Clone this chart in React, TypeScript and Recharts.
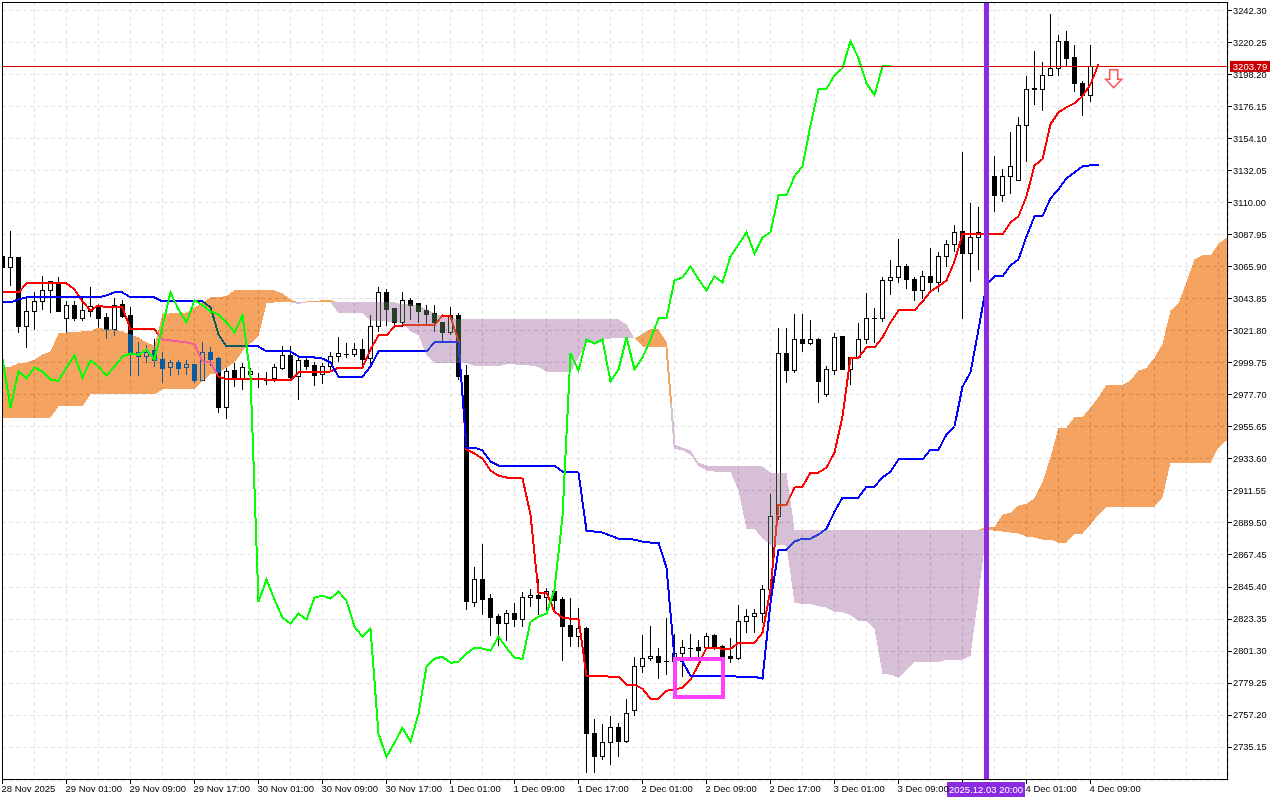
import React from 'react';
import {
  ComposedChart, Bar, Line, Area, XAxis, YAxis, CartesianGrid, ReferenceLine, ReferenceArea, ReferenceDot
} from 'recharts';

const FONT = '"Liberation Sans", Arial, sans-serif';

// every bar is one hour, a label sits on every 8th bar
const timeLabels = [
  '28 Nov 2025', '29 Nov 01:00', '29 Nov 09:00', '29 Nov 17:00', '30 Nov 01:00', '30 Nov 09:00',
  '30 Nov 17:00', '1 Dec 01:00', '1 Dec 09:00', '1 Dec 17:00', '2 Dec 01:00', '2 Dec 09:00',
  '2 Dec 17:00', '3 Dec 01:00', '3 Dec 09:00', '', '4 Dec 01:00', '4 Dec 09:00'
];

const priceTicks = [
  3242.30, 3220.25, 3198.20, 3176.15, 3154.10, 3132.05, 3110.00, 3087.95, 3065.90, 3043.85, 3021.80, 2999.75,
  2977.70, 2955.65, 2933.60, 2911.55, 2889.50, 2867.45, 2845.40, 2823.35, 2801.30, 2779.25, 2757.20, 2735.15
];

const opens = [
  3073,3065.5,3072.3,3024.8,3035.1,3042,3049.6,3054.4,3030.3,3039.3,
  3030.3,3035.1,3038.6,3031,3022.7,3040,3032.4,3004.1,3004.1,3008.3,
  3002,2996.5,3000,2996.5,2998.6,2987.6,3006.9,3002.7,2969,2994.5,
  2989,2991.7,2988.3,2987.6,2989,2995.8,3004.8,2990.3,3001.4,2997.9,
  2991.7,2997.2,3004.1,3005.5,3005.5,3008.9,3002.7,3024.8,3048.2,3037.2,
  3027.6,3042.7,3040.6,3035.8,3033.8,3027.6,3020.7,3032.4,2991,2834.6,
  2850.5,2837.4,2825,2820.2,2827.1,2822.9,2838.1,2839.5,2838.1,2842.2,
  2836.7,2818.8,2811.2,2816.7,2744.4,2728.5,2738.2,2748.5,2738.9,2760.2,
  2790.5,2796,2797.4,2794,2794,2799.5,2802.9,2803.6,2803.6,2811.9,
  2804.3,2797.4,2796,2821.5,2825,2827.1,2843.6,2893.9,3006.2,2994.5,
  3015.8,3013.1,3015.8,2977.9,2994.5,3017.9,2995.2,3003.4,3015.8,3030.3,
  3030.3,3056.5,3058.6,3066.1,3057.2,3049.6,3059.3,3055.1,3073,3081.3,
  3090.2,3075.1,3086.1,3089.6,3128.1,3115.1,3128.1,3125.4,3163.3,3188.1,
  3188.1,3197.7,3202.6,3221.2,3210.1,3192.2,3184,3203.79
];

const highs = [
  3074.4,3090.9,3073,3046.2,3048.9,3059.9,3056.5,3059.3,3042.7,3042.7,
  3044.8,3052.4,3040,3034.4,3044.8,3043.4,3038.6,3014.5,3012.4,3016.5,
  3007.6,3002,3002,3002,2998.6,3014.5,3011,3004.1,2996.5,3000,
  3000,2996.5,2993.1,2993.8,2999.3,3011.7,3011.7,3004.8,3004.8,3000.7,
  3000,3007.6,3017.9,3013.8,3013.8,3016.5,3033.1,3052.4,3051,3037.2,
  3048.9,3044.8,3040.6,3040,3040,3027.6,3038.6,3034.4,2998.6,2859.4,
  2875.3,2840.8,2827.1,2829.8,2834.6,2842.2,2844.3,2851.2,2845,2844.3,
  2838.8,2838.1,2831.2,2818.1,2754.7,2751.3,2756.8,2752,2768.5,2797.4,
  2812.6,2818.8,2803.6,2824.3,2813.3,2809.1,2813.3,2809.1,2814,2813.3,
  2805.7,2810.5,2833.3,2830.5,2830.5,2847,2909.7,3024.1,3024.1,3033.8,
  3033.8,3029.6,3017.2,2997.9,3020.7,3018.6,3003.4,3027.6,3048.2,3037.9,
  3059.3,3071,3085.4,3068.2,3059.3,3063.4,3079.2,3076.5,3084.7,3095.1,
  3145.4,3110.2,3107.5,3119.2,3142.6,3133.7,3159.2,3169.5,3197.7,3215,
  3207.4,3240.5,3226,3228.7,3219.1,3194.3,3219.1,3203.79
];

const lows = [
  3064.1,3053,3020.7,3010.3,3022.7,3036.5,3034.4,3035.1,3020.7,3028.9,
  3028.9,3031.7,3024.1,3016.5,3018.6,3031,2991,2991,3000,2997.2,
  2986.2,2991,2991.7,2991.7,2986.2,2987.6,2997.9,2965.5,2961.4,2983.4,
  2981.4,2986.9,2982.8,2984.8,2986.9,2995.2,2988.3,2974.5,2995.2,2984.1,
  2985.5,2995.2,3000.7,3003.4,3004.1,2997.2,2999.3,3021.4,3025.5,3024.8,
  3024.8,3029.6,3027.6,3026.2,3021.4,3013.8,3019.3,2988.3,2829.8,2831.9,
  2826.4,2811.9,2805,2808.4,2818.1,2818.1,2831.9,2826.4,2829.8,2827.8,
  2794.7,2804.3,2804.3,2717.5,2717.5,2726.5,2723,2728.5,2738.2,2756.8,
  2786.4,2794.7,2782.3,2785,2788.5,2783.6,2796.7,2797.4,2802.2,2802.2,
  2795.4,2793.3,2795.4,2814,2814,2820.9,2838.8,2891.8,2986.2,2993.1,
  3007.6,3012.4,2972.4,2976.6,2991.7,2995.2,2984.8,3003.4,3013.1,3013.8,
  3028.2,3046.8,3055.1,3051,3042.7,3044.1,3049.6,3048.9,3066.1,3076.5,
  3030.3,3055.8,3064.1,3084.7,3104,3110.9,3116.4,3125.4,3138.5,3177.8,
  3173.6,3197.7,3197.7,3203.9,3186.7,3170.2,3179.8,3203.79
];

const closes = [
  3065.5,3072.3,3024.8,3035.1,3042,3049.6,3055.8,3035.1,3039.3,3030.3,
  3035.8,3038.6,3030.3,3022.7,3039.3,3031.7,3006.2,3006.9,3006.9,3001.4,
  2995.8,3000,2995.8,2998.6,2987.6,3006.9,3002,2969,2993.8,2989,
  2996.5,2993.8,2988,2987.4,2996.5,3004.8,2989.6,3001.4,2997.2,2991,
  2997.2,3004.1,3006.2,3005.2,3008.9,3002,3024.8,3048.2,3036.5,3027.6,
  3042.7,3039.3,3035.1,3033.1,3027.6,3020.7,3032.4,2990.3,2835.3,2850.5,
  2836.7,2824.3,2820.2,2827.1,2822.9,2838.1,2839.5,2837.4,2842.2,2836,
  2818.1,2811.2,2816.7,2744.4,2728.5,2738.2,2748.5,2738.9,2758.1,2790.5,
  2796,2797.4,2793.3,2793.8,2799.5,2803.6,2803,2801.6,2811.2,2803.6,
  2796.7,2796,2821.5,2825,2827.1,2843.6,2893.9,3006.2,2994.5,3015.8,
  3013.1,3015.8,2986.9,2995.2,3017.2,2995.2,3003.4,3015.8,3030.3,3030.5,
  3056.5,3058.6,3066.1,3057.2,3049.6,3059.3,3055.1,3073,3081.3,3089.6,
  3075.1,3086.1,3089.6,3115.1,3115.1,3128.1,3135,3163.3,3188.1,3188.3,
  3197.7,3202.6,3221.2,3209.4,3192.2,3184,3203.79,3203.79
];

const tenkan = [
  3048.2,3048.2,3048.2,3054.4,3054.4,3054.4,3054.4,3054.4,3054.4,3050.3,
  3042,3035.8,3039.3,3037.9,3037.9,3037.9,3022.7,3022.7,3022.7,3022.7,
  3015.8,3015.2,3014.5,3013.8,3012.4,3000.7,3000,2990.3,2988.3,2988.3,
  2988.3,2988.3,2988.3,2988.3,2987.6,2987.6,2987.6,2993.1,2993.1,2993.1,
  2993.1,2993.8,2996.5,2996.5,2996.5,2996.5,3008.9,3018.6,3018.6,3024.8,
  3025.5,3025.5,3025.5,3025.5,3025.5,3032.4,3031.7,3014.5,2940,2937.3,
  2933.8,2925.6,2922.1,2920.8,2920.8,2920.1,2895.3,2841.5,2841.5,2828.4,
  2824.3,2823.6,2823.6,2784.3,2784.3,2784.3,2783.6,2783.6,2778.1,2778.1,
  2775.4,2768.5,2768.5,2774,2774.7,2776.1,2781.6,2791.9,2803.6,2803.6,
  2802.9,2802.9,2807,2807,2807,2814,2843.6,2902.2,2902.2,2913.9,
  2914.6,2924.2,2924.2,2927.6,2938,2962.8,3003.4,3003.4,3010.3,3010.3,
  3017.2,3027.6,3035.8,3035.8,3035.8,3042,3048.9,3052.4,3056.5,3069.6,
  3088.2,3088.2,3088.2,3088.2,3088.2,3088.2,3096.4,3100.6,3114.4,3135.7,
  3139.9,3164,3172.2,3175.7,3178.4,3183.3,3191.5,3205.3
];

const kijun = [
  3041.3,3041.3,3043.4,3044.8,3044.8,3044.8,3044.8,3044.8,3044.8,3044.8,
  3044.8,3044.8,3044.8,3046.2,3048.2,3048.2,3044.8,3044.8,3044.8,3044.8,
  3042,3042,3042,3042,3042,3042,3037.9,3019.3,3011,3011,
  3011,3011,3011,3007.6,3007.6,3007.6,3007.6,3004.1,3004.1,3003.4,
  3002.7,3000,2990.3,2990.3,2990.3,2990.3,2997.2,3007.6,3007.6,3007.6,
  3007.6,3007.6,3007.6,3007.6,3013.8,3013.8,3013.8,3013.8,2941.4,2941.4,
  2939.4,2931.8,2929,2929,2929,2929,2929,2929,2929,2929,
  2924.9,2924.9,2924.2,2884.2,2883.6,2882.9,2880.8,2878.7,2878.7,2878,
  2876.7,2876,2876,2858.7,2796.7,2794,2784.3,2784.3,2784.3,2784.3,
  2784.3,2784.3,2783.6,2783.6,2783.6,2782.3,2834.6,2871.1,2871.1,2876.7,
  2878.7,2878.7,2881.5,2885.6,2897.3,2907,2907,2907,2914.6,2914.6,
  2920.8,2924.9,2933.2,2933.2,2933.2,2933.2,2940,2940,2950.4,2955.9,
  2983.4,2993.1,3022.7,3053.7,3059.3,3059.3,3066.8,3071,3086.8,3100.6,
  3100.6,3113,3119.2,3126.8,3130.9,3135,3135.7,3135.7
];

// lagging line, ends 26 bars before the last candle
const chikou = [
  3002,2969,2993.8,2989,
  2996.5,2993.8,2988,2987.4,2996.5,3004.8,2989.6,3001.4,2997.2,2991,
  2997.2,3004.1,3006.2,3005.2,3008.9,3002,3024.8,3048.2,3036.5,3027.6,
  3042.7,3039.3,3035.1,3033.1,3027.6,3020.7,3032.4,2990.3,2835.3,2850.5,
  2836.7,2824.3,2820.2,2827.1,2822.9,2838.1,2839.5,2837.4,2842.2,2836,
  2818.1,2811.2,2816.7,2744.4,2728.5,2738.2,2748.5,2738.9,2758.1,2790.5,
  2796,2797.4,2793.3,2793.8,2799.5,2803.6,2803,2801.6,2811.2,2803.6,
  2796.7,2796,2821.5,2825,2827.1,2843.6,2893.9,3006.2,2994.5,3015.8,
  3013.1,3015.8,2986.9,2995.2,3017.2,2995.2,3003.4,3015.8,3030.3,3030.5,
  3056.5,3058.6,3066.1,3057.2,3049.6,3059.3,3055.1,3073,3081.3,3089.6,
  3075.1,3086.1,3089.6,3115.1,3115.1,3128.1,3135,3163.3,3188.1,3188.3,
  3197.7,3202.6,3221.2,3209.4,3192.2,3184,3203.79,3203.79
];

const spanA = [
  2997.2,2997.2,2999.3,3000,3002,3005.5,3007.6,3020,3020.7,3020.7,
  3021.4,3021.4,3024.1,3022.7,3022.7,3021.4,3019.3,3017.2,3013.8,3011.7,
  3033.1,3033.8,3033.8,3034.4,3037.9,3041.3,3044.8,3044.8,3045.8,3049.6,
  3049.6,3049.6,3049.6,3049.6,3049.6,3047.5,3043.4,3040.3,3042,3042,
  3043,3043,3033.8,3033.8,3033.8,3033.8,3028.9,3028.6,3028.2,3027.9,
  3027.2,3021.4,3018.9,3004.8,2999.6,2999.6,2999.6,2999.6,2999.6,2997.9,
  2997.6,2997.6,2997.6,2998.6,2998.6,2998.3,2997.9,2996.9,2993.4,2993.4,
  2993.4,2993.4,3003.1,3013.1,3013.1,3016.2,3016.5,3016.5,3016.5,3016.5,
  3019.6,3023.1,3022.7,3014.1,2940.7,2939.4,2936.6,2928.7,2925.6,2924.9,
  2924.9,2924.5,2912.1,2885.3,2885.3,2878.7,2874.6,2874.3,2873.9,2834.3,
  2833.9,2833.6,2832.2,2831.2,2828.4,2828.1,2826,2822.2,2822.2,2816.4,
  2785.7,2785,2783,2788.1,2794,2794,2793.6,2793.6,2795.4,2795.4,
  2795.4,2798.1,2839.1,2886.6,2886.6,2895.3,2896.6,2901.5,2902.8,2906.6,
  2917.7,2934.9,2955.2,2955.2,2962.4,2962.4,2969,2976.2,2984.5,2984.5,
  2984.5,2987.6,2994.5,2996.2,3003.4,3012.7,3035.8,3040.6,3055.5,3071,
  3073.7,3073.7,3081.6,3085.8
];

const spanB = [
  2962.1,2962.1,2962.1,2962.1,2962.1,2962.1,2962.1,2969.7,2969.7,2969.7,
  2969.7,2978,2978,2978,2978,2978,2978,2978,2978,2978,
  2981.4,2981.4,2981.4,2981.4,2981.4,2986.9,2991.7,2992.4,2996.5,3000,
  3007.6,3013.1,3017.9,3040.6,3041.3,3041.3,3041.3,3041.3,3041.3,3041.3,
  3041.3,3041.3,3041.3,3041.3,3041.3,3041.3,3041.3,3041.3,3041.3,3041.3,
  3040,3040,3039.3,3036.5,3033.8,3031.7,3031,3029.6,3029.6,3029.6,
  3029.6,3029.6,3029.6,3029.6,3029.6,3029.6,3029.6,3029.6,3029.6,3029.6,
  3029.6,3029.6,3029.6,3029.6,3029.6,3029.6,3029.6,3029.6,3026.2,3016.5,
  3011,3010.3,3010.3,3010.3,2943.5,2941.4,2939.4,2931.1,2929,2929,
  2929,2929,2929,2929,2929,2928.3,2924.2,2924.2,2924.2,2884.9,
  2884.9,2884.9,2884.9,2884.9,2884.9,2884.9,2884.9,2884.9,2884.9,2884.9,
  2884.9,2884.9,2884.9,2884.9,2884.9,2884.9,2884.9,2884.9,2884.9,2884.9,
  2884.9,2884.9,2884.9,2884.9,2884.2,2883.6,2882.9,2882.2,2880.1,2879.4,
  2878,2878,2876,2876,2882.2,2882.2,2888.4,2895.3,2900.8,2900.8,
  2900.8,2900.8,2900.8,2900.8,2900.8,2907,2931.1,2931.1,2931.1,2931.1,
  2931.1,2931.1,2941.4,2946.2
];

const gridBars = Array.from({ length: 39 }, (_, k) => k * 4);

const rows = spanA.map((a, i) => {
  const b = spanB[i];
  const up = a >= b;
  const prevUp = i > 0 ? spanA[i - 1] >= spanB[i - 1] : up;
  const nextUp = i < spanA.length - 1 ? spanA[i + 1] >= spanB[i + 1] : up;
  // where the spans cross, both clouds meet in a single point on span B
  const orange = up ? [b, a] : prevUp || nextUp ? [b, b] : null;
  const purple = !up ? [a, b] : !prevUp || !nextUp ? [b, b] : null;
  return {
    bar: i,
    open: opens[i] ?? null,
    close: closes[i] ?? null,
    range: i < opens.length ? [lows[i], highs[i]] : null,
    high: highs[i] ?? null,
    low: lows[i] ?? null,
    tenkan: tenkan[i] ?? null,
    kijun: kijun[i] ?? null,
    chikou: chikou[i] ?? null,
    // the cloud collapses to a thread between these two bars
    thread: i === 83 || i === 84 ? b : null,
    orange,
    purple
  };
});

function Candle(props: any) {
  const { x, y, width, height, payload } = props;
  if (!payload || payload.open == null) return null;
  const top = Math.min(y, y + height);
  const span = payload.high - payload.low;
  const perPrice = span > 0 ? Math.abs(height) / span : 0;
  const cx = Math.floor(x + width / 2) + 0.5;
  const yOf = (p: number) => Math.floor(top + (payload.high - p) * perPrice) + 0.5;
  const bodyTop = yOf(Math.max(payload.open, payload.close));
  const bodyBottom = yOf(Math.min(payload.open, payload.close));
  const falling = payload.close < payload.open;
  return (
    <g shapeRendering="crispEdges">
      <line x1={cx} x2={cx} y1={yOf(payload.high)} y2={yOf(payload.low)} stroke="#000" />
      {bodyBottom - bodyTop < 1 ? (
        <line x1={cx - 2.5} x2={cx + 2.5} y1={bodyTop} y2={bodyTop} stroke="#000" />
      ) : (
        <rect x={cx - 2} y={bodyTop} width={4} height={bodyBottom - bodyTop} fill={falling ? '#000' : '#fff'} stroke="#000" />
      )}
    </g>
  );
}

function TimeTick(props: any) {
  const { x, y, payload } = props;
  if (payload.value % 8 !== 0 || payload.value > 136) return null;
  const label = timeLabels[payload.value / 8];
  return (
    <g>
      <line x1={x - 0.5} x2={x - 0.5} y1={y} y2={label ? y + 4 : y + 2} stroke="#000" shapeRendering="crispEdges" />
      {label ? (
        <text x={x - 1} y={y + 12} fontSize={9.5} fontFamily={FONT} fill="#000">{label}</text>
      ) : null}
    </g>
  );
}

function PriceTag(props: any) {
  const { x, y, width } = props.viewBox;
  const left = x + width + 2;
  return (
    <g>
      <rect x={left} y={y - 5.5} width={40} height={11} fill="#cc0000" />
      <text x={left + 20} y={y + 3.5} fontSize={9.5} fontFamily={FONT} fill="#fff" textAnchor="middle">3203.79</text>
    </g>
  );
}

function TimeTag(props: any) {
  const { x, y, height } = props.viewBox;
  const base = y + height;
  return (
    <g>
      <rect x={x - 39.5} y={base + 2} width={78} height={15} fill="#8a2be2" />
      <text x={x - 0.5} y={base + 12.5} fontSize={9.5} fontFamily={FONT} fill="#fff" textAnchor="middle">2025.12.03 20:00</text>
    </g>
  );
}

function SellArrow(props: any) {
  const { cx, cy } = props;
  const points = [
    [cx - 4, cy - 9.5], [cx + 4, cy - 9.5], [cx + 4, cy], [cx + 8, cy],
    [cx, cy + 8.5], [cx - 8, cy], [cx - 4, cy]
  ].map((p) => p.join(',')).join(' ');
  return <polygon points={points} fill="#fff" stroke="#ff5050" strokeWidth={1.5} />;
}

export default function App() {
  return (
    <div style={{ position: 'absolute', left: 0, top: 0, width: 1280, height: 800, background: '#fff', overflow: 'hidden', isolation: 'isolate' }}>
      {/* the cloud is painted like MT5 does it: xor over what is already there */}
      <style>{`
        .cloud-fill { mix-blend-mode: difference; }
        svg.recharts-surface { background: #fff; isolation: isolate; }
        .recharts-line-curve, .recharts-area-area, .recharts-cartesian-grid line,
        .recharts-reference-line-line, .recharts-cartesian-axis-tick-line,
        .recharts-reference-area-rect { shape-rendering: crispEdges; }
      `}</style>
      <ComposedChart width={1280} height={800} data={rows} margin={{ top: 2, right: 0, bottom: 0, left: 2 }}>
        <defs>
          <linearGradient id="threadFade" x1="0" y1="0" x2="0" y2="1">
            <stop offset="57%" stopColor="#f4a460" />
            <stop offset="57%" stopColor="#d8bfd8" />
          </linearGradient>
        </defs>
        <CartesianGrid stroke="#e3e3e3" strokeWidth={1} strokeDasharray="4 3" />
        <XAxis
          dataKey="bar"
          type="number"
          domain={[-0.0625, 153.1875]}
          allowDataOverflow
          ticks={gridBars}
          interval={0}
          height={20}
          axisLine={false}
          tickLine={false}
          tickSize={0}
          tickMargin={0}
          tick={<TimeTick />}
        />
        <YAxis
          orientation="right"
          type="number"
          domain={[2712.55, 3248.15]}
          allowDataOverflow
          ticks={priceTicks}
          interval={0}
          width={52}
          axisLine={false}
          tickSize={4}
          tickMargin={1}
          tickFormatter={(v: number) => v.toFixed(2)}
          tick={{ fontSize: 9.3, fontFamily: FONT, fill: '#000' }}
          stroke="#000"
        />
        <Bar dataKey="range" barSize={5} shape={<Candle />} isAnimationActive={false} zIndex={100} />
        <Line dataKey="tenkan" type="linear" stroke="#ff0000" strokeWidth={2} dot={false} activeDot={false} isAnimationActive={false} zIndex={110} />
        <Line dataKey="kijun" type="linear" stroke="#0000ff" strokeWidth={2} dot={false} activeDot={false} isAnimationActive={false} zIndex={110} />
        <Area dataKey="orange" className="cloud-fill" type="linear" stroke="none" fill="#0b5b9f" fillOpacity={1} dot={false} activeDot={false} isAnimationActive={false} zIndex={120} />
        <Area dataKey="purple" className="cloud-fill" type="linear" stroke="none" fill="#274027" fillOpacity={1} dot={false} activeDot={false} isAnimationActive={false} zIndex={120} />
        <Line dataKey="thread" type="linear" stroke="url(#threadFade)" strokeWidth={2} dot={false} activeDot={false} isAnimationActive={false} zIndex={125} />
        <Line dataKey="chikou" type="linear" stroke="#00ff00" strokeWidth={2} dot={false} activeDot={false} isAnimationActive={false} zIndex={130} />
        <ReferenceArea x1={84} x2={90} y1={2769.9} y2={2795.7} fill="none" stroke="#ff40ff" strokeWidth={4} zIndex={140} />
        <ReferenceDot x={138.9} y={3195} r={8} shape={<SellArrow />} zIndex={140} />
        <ReferenceLine y={3203.79} stroke="#d90000" strokeWidth={1} label={PriceTag} zIndex={600} />
        <ReferenceLine x={123} stroke="#8a2be2" strokeWidth={5} label={TimeTag} zIndex={600} />
      </ComposedChart>
      <div style={{ position: 'absolute', left: 2, top: 2, width: 1226, height: 778, boxSizing: 'border-box', border: '1px solid #000', pointerEvents: 'none' }} />
    </div>
  );
}
